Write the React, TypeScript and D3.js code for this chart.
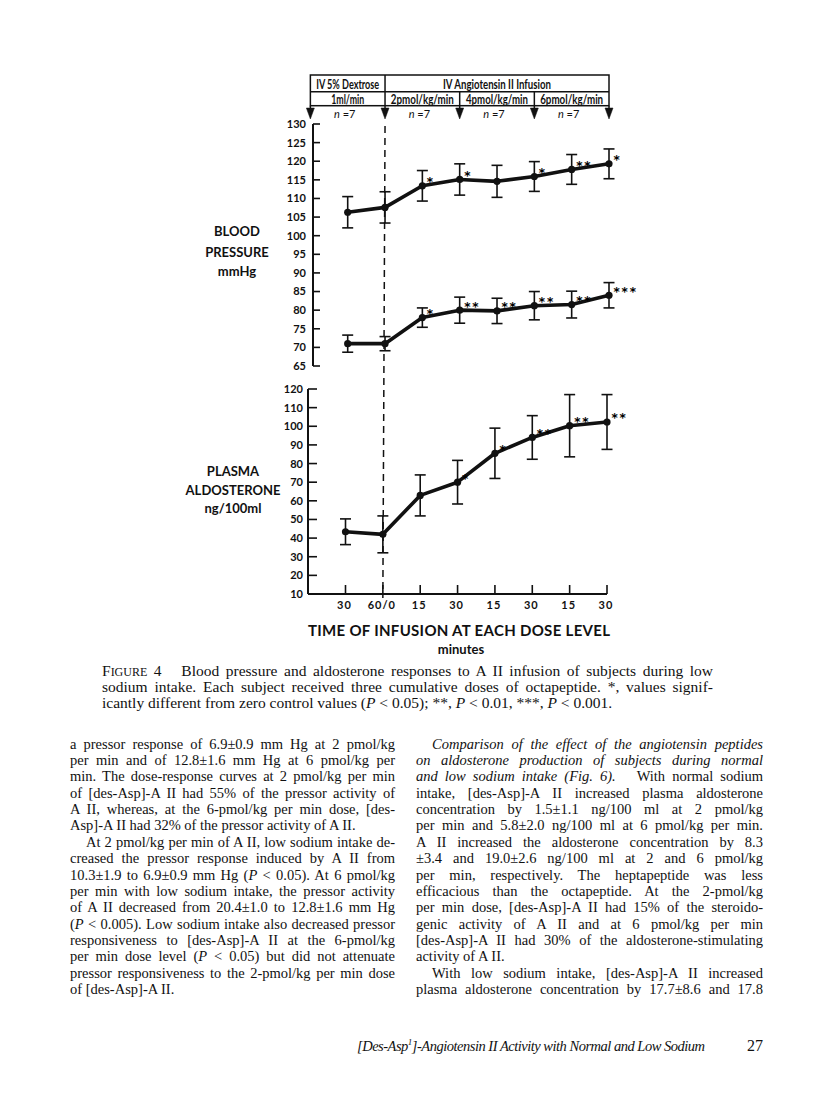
import React, { useLayoutEffect, useRef } from 'react';
import * as d3 from 'd3';

// ---------- data ----------
const timeLabels = ["30", "60/0", "15", "30", "15", "30", "15", "30"];
const systolicMean = [106.3, 107.6, 113.4, 115.1, 114.6, 115.9, 117.8, 119.3];
const systolicErr = [4.2, 4.2, 4.1, 4.2, 4.3, 4.0, 4.0, 4.0];
const systolicSig = ["", "", "*", "*", "", "*", "**", "*"];
const diastolicMean = [71.0, 71.0, 78.0, 80.0, 79.8, 81.2, 81.5, 84.0];
const diastolicErr = [2.3, 1.9, 2.6, 3.5, 3.4, 3.8, 3.6, 3.4];
const diastolicSig = ["", "", "*", "**", "**", "**", "**", "***"];
const aldoMean = [43.4, 42.0, 62.9, 70.0, 85.5, 94.0, 100.3, 102.3];
const aldoErr = [6.9, 9.9, 11.0, 11.7, 13.5, 11.7, 16.7, 14.7];
const aldoSig = ["", "", "", "*", "*", "**", "**", "**"];
const bpTicks = d3.range(65, 131, 5);
const aldoTicks = d3.range(10, 121, 10);
const groupHeaders = ["IV 5% Dextrose", "IV Angiotensin II Infusion"];
const doseHeaders = ["1ml/min", "2pmol/kg/min", "4pmol/kg/min", "6pmol/kg/min"];
const nLabels = ["n", "n", "n", "n"];
const boundaries = [-1, 1, 3, 5, 7];

const captionLines = [
  "Blood pressure and aldosterone responses to A II infusion of subjects during low",
  "sodium intake. Each subject received three cumulative doses of octapeptide. *, values signif-",
  "icantly different from zero control values (_P_ < 0.05); **, _P_ < 0.01, ***, _P_ < 0.001.",
];
const leftColumn = [
  "a pressor response of 6.9±0.9 mm Hg at 2 pmol/kg",
  "per min and of 12.8±1.6 mm Hg at 6 pmol/kg per",
  "min. The dose-response curves at 2 pmol/kg per min",
  "of [des-Asp]-A II had 55% of the pressor activity of",
  "A II, whereas, at the 6-pmol/kg per min dose, [des-",
  "Asp]-A II had 32% of the pressor activity of A II.",
  "At 2 pmol/kg per min of A II, low sodium intake de-",
  "creased the pressor response induced by A II from",
  "10.3±1.9 to 6.9±0.9 mm Hg (_P_ < 0.05). At 6 pmol/kg",
  "per min with low sodium intake, the pressor activity",
  "of A II decreased from 20.4±1.0 to 12.8±1.6 mm Hg",
  "(_P_ < 0.005). Low sodium intake also decreased pressor",
  "responsiveness to [des-Asp]-A II at the 6-pmol/kg",
  "per min dose level (_P_ < 0.05) but did not attenuate",
  "pressor responsiveness to the 2-pmol/kg per min dose",
  "of [des-Asp]-A II.",
];
const leftIndent = [false, false, false, false, false, false, true, false, false, false, false, false, false, false, false, false];
const leftLast = [false, false, false, false, false, true, false, false, false, false, false, false, false, false, false, true];
const rightColumn = [
  "_Comparison of the effect of the angiotensin peptides_",
  "_on aldosterone production of subjects during normal_",
  "_and low sodium intake (Fig. 6)._   With normal sodium",
  "intake, [des-Asp]-A II increased plasma aldosterone",
  "concentration by 1.5±1.1 ng/100 ml at 2 pmol/kg",
  "per min and 5.8±2.0 ng/100 ml at 6 pmol/kg per min.",
  "A II increased the aldosterone concentration by 8.3",
  "±3.4 and 19.0±2.6 ng/100 ml at 2 and 6 pmol/kg",
  "per min, respectively. The heptapeptide was less",
  "efficacious than the octapeptide. At the 2-pmol/kg",
  "per min dose, [des-Asp]-A II had 15% of the steroido-",
  "genic activity of A II and at 6 pmol/kg per min",
  "[des-Asp]-A II had 30% of the aldosterone-stimulating",
  "activity of A II.",
  "With low sodium intake, [des-Asp]-A II increased",
  "plasma aldosterone concentration by 17.7±8.6 and 17.8",
];
const rightIndent = [true, false, false, false, false, false, false, false, false, false, false, false, false, false, true, false];
const rightLast = [false, false, false, false, false, false, false, false, false, false, false, false, false, true, false, false];
const footerText = "]-Angiotensin II Activity with Normal and Low Sodium";
const pageNumber = "27";

// ---------- styles ----------
const GEO = "Lato, 'Open Sans', sans-serif";
const STAR = "'DejaVu Sans', sans-serif";
const SERIF = "'Liberation Serif', 'DejaVu Serif', serif";
const headerGroupWidths = [63, 108];
const headerDoseWidths = [33, 63, 62, 63];

type Seg = { t: string; it?: boolean; size?: number };

function parts(s: string): Seg[] {
  const segs = s.split("_");
  return segs.map((t, i) => ({ t, it: i % 2 === 1 })).filter((p) => p.t.length > 0);
}

function TextLine({ x, y, width, segs, justify, size }: { x: number; y: number; width: number; segs: Seg[]; justify: boolean; size: number }) {
  const ref = useRef<SVGTextElement>(null);
  const full = segs.map((s) => s.t).join('');
  useLayoutEffect(() => {
    const el = ref.current;
    if (!el || !justify) return;
    el.setAttribute('word-spacing', '0');
    const w = el.getComputedTextLength();
    const n = (full.match(/ /g) || []).length;
    if (n > 0) el.setAttribute('word-spacing', String((width - w) / n));
  }, [full, width, justify, size]);
  return (
    <text ref={ref} x={x} y={y} fontFamily={SERIF} fontSize={size} fill="#111" style={{ whiteSpace: 'pre' }}>
      {segs.map((p, i) => (
        <tspan key={i} fontStyle={p.it ? 'italic' : 'normal'} fontSize={p.size}>{p.t}</tspan>
      ))}
    </text>
  );
}

function Series({ x, y, mean, err, sig }: any) {
  const line = d3.line<number>().x((_, i) => x(i)).y((d) => y(d));
  return (
    <g>
      {mean.map((m: number, i: number) => (
        <g key={i} stroke="#111" strokeWidth={1.6}>
          <line x1={x(i)} x2={x(i)} y1={y(m + err[i])} y2={y(m - err[i])} />
          <line x1={x(i) - 5.5} x2={x(i) + 5.5} y1={y(m + err[i])} y2={y(m + err[i])} />
          <line x1={x(i) - 5.5} x2={x(i) + 5.5} y1={y(m - err[i])} y2={y(m - err[i])} />
        </g>
      ))}
      <path d={line(mean) || ''} fill="none" stroke="#111" strokeWidth={3.6} strokeLinejoin="round" />
      {mean.map((m: number, i: number) => (
        <circle key={i} cx={x(i)} cy={y(m)} r={3.6} fill="#111" />
      ))}
      {mean.map((m: number, i: number) =>
        sig[i] ? (
          <text key={i} x={x(i) + 4.5} y={y(m) + 0.5} fontFamily={STAR} fontWeight={700} fontSize={12} letterSpacing={1.8} fill="#000" style={{ textRendering: 'geometricPrecision' }}>
            {sig[i]}
          </text>
        ) : null
      )}
    </g>
  );
}

export default function App() {
  const W = 816, H = 1117;
  const xTop = d3.scaleLinear().domain([0, 7]).range([347.7, 609]);
  const xBot = d3.scaleLinear().domain([0, 7]).range([345.5, 607]);
  const yBP = d3.scaleLinear().domain([65, 130]).range([366, 124]);
  const yAl = d3.scaleLinear().domain([10, 120]).range([594, 389]);
  const bpAxisX = 313;
  const alAxisX = 308;
  const bx = boundaries.map((b) => xTop(b));
  const boxTop = 75, boxMid = 91.7, boxBot = 105.7;

  const colTop = 748.5, lh = 16.38;

  return (
    <svg width={W} height={H} style={{ position: 'absolute', left: 0, top: 0, background: '#fff' }}>
      <rect x={0} y={0} width={W} height={H} fill="#fff" />
      {/* header box */}
      <g stroke="#111" strokeWidth={1.5} fill="none">
        <rect x={bx[0]} y={boxTop} width={bx[4] - bx[0]} height={boxBot - boxTop} />
        <line x1={bx[0]} x2={bx[4]} y1={boxMid} y2={boxMid} />
        <line x1={bx[1]} x2={bx[1]} y1={boxTop} y2={boxBot} />
        <line x1={bx[2]} x2={bx[2]} y1={boxMid} y2={boxBot} />
        <line x1={bx[3]} x2={bx[3]} y1={boxMid} y2={boxBot} />
      </g>
      <g fontFamily={GEO} fontWeight={700} fontSize={12.5} fill="#111">
        <text x={(bx[0] + bx[1]) / 2 - headerGroupWidths[0] / 2} y={88.5} textLength={headerGroupWidths[0]} lengthAdjust="spacingAndGlyphs">{groupHeaders[0]}</text>
        <text x={(bx[1] + bx[4]) / 2 - headerGroupWidths[1] / 2} y={88.5} textLength={headerGroupWidths[1]} lengthAdjust="spacingAndGlyphs">{groupHeaders[1]}</text>
        {doseHeaders.map((d, i) => (
          <text key={i} x={(bx[i] + bx[i + 1]) / 2 - headerDoseWidths[i] / 2} y={103.5} textLength={headerDoseWidths[i]} lengthAdjust="spacingAndGlyphs">{d}</text>
        ))}
      </g>
      {/* arrows */}
      {bx.map((x, i) => (
        <g key={i} fill="#111" stroke="#111">
          <line x1={x} x2={x} y1={boxBot} y2={110} strokeWidth={1.5} />
          <path d={`M${x - 4},${108}L${x + 4},${108}L${x},${119}Z`} strokeWidth={0.5} />
        </g>
      ))}
      {nLabels.map((n, i) => (
        <text key={i} x={(bx[i] + bx[i + 1]) / 2 - 3} y={118} textAnchor="middle" fontFamily={GEO} fontSize={11} fill="#111">
          <tspan fontStyle="italic">{n}</tspan> =7
        </text>
      ))}
      {/* dashed divider */}
      <line x1={xTop(1)} y1={126} x2={xBot(1)} y2={598} stroke="#111" strokeWidth={1.5} strokeDasharray="7,5" />

      {/* BP axis */}
      <line x1={bpAxisX} x2={bpAxisX} y1={yBP(130)} y2={yBP(65)} stroke="#111" strokeWidth={2} />
      {bpTicks.map((t) => (
        <g key={t}>
          <line x1={bpAxisX} x2={bpAxisX + 7} y1={yBP(t)} y2={yBP(t)} stroke="#111" strokeWidth={1.6} />
          <text x={bpAxisX - 7} y={yBP(t)} dy="0.36em" textAnchor="end" fontFamily={GEO} fontWeight={700} fontSize={11} fill="#111">{t}</text>
        </g>
      ))}
      <g fontFamily={GEO} fontWeight={700} fontSize={13} fill="#111" textAnchor="middle">
        <text x={237} y={236}>BLOOD</text>
        <text x={237} y={257}>PRESSURE</text>
        <text x={237} y={276}>mmHg</text>
      </g>
      <Series x={xTop} y={yBP} mean={systolicMean} err={systolicErr} sig={systolicSig} />
      <Series x={xTop} y={yBP} mean={diastolicMean} err={diastolicErr} sig={diastolicSig} />

      {/* Aldosterone axis */}
      <line x1={alAxisX} x2={alAxisX} y1={yAl(120)} y2={yAl(10)} stroke="#111" strokeWidth={2} />
      <line x1={alAxisX} x2={xBot(7)} y1={yAl(10)} y2={yAl(10)} stroke="#111" strokeWidth={2} />
      {aldoTicks.map((t) => (
        <g key={t}>
          <line x1={alAxisX} x2={alAxisX + 9} y1={yAl(t)} y2={yAl(t)} stroke="#111" strokeWidth={1.6} />
          <text x={alAxisX - 5} y={yAl(t)} dy="0.36em" textAnchor="end" fontFamily={GEO} fontWeight={700} fontSize={11} fill="#111">{t}</text>
        </g>
      ))}
      {timeLabels.map((l, i) => (
        <g key={i}>
          <line x1={xBot(i)} x2={xBot(i)} y1={yAl(10)} y2={yAl(10) - 9} stroke="#111" strokeWidth={1.6} />
          <text x={xBot(i) - 1} y={609} textAnchor="middle" fontFamily={GEO} fontWeight={700} fontSize={11} letterSpacing={1} fill="#111">{l}</text>
        </g>
      ))}
      <g fontFamily={GEO} fontWeight={700} fontSize={13} fill="#111" textAnchor="middle">
        <text x={233} y={476}>PLASMA</text>
        <text x={233} y={495}>ALDOSTERONE</text>
        <text x={233} y={513}>ng/100ml</text>
      </g>
      <Series x={xBot} y={yAl} mean={aldoMean} err={aldoErr} sig={aldoSig} />

      <text x={308} y={636} textLength={302} lengthAdjust="spacing" fontFamily={GEO} fontWeight={700} fontSize={15} fill="#111">TIME OF INFUSION AT EACH DOSE LEVEL</text>
      <text x={461} y={654} textAnchor="middle" fontFamily={GEO} fontWeight={700} fontSize={13} fill="#111">minutes</text>

      {/* caption */}
      <TextLine x={102} y={676} width={611} justify size={15.5}
        segs={[{ t: 'F' }, { t: 'IGURE', size: 12 }, { t: ' 4   ' }, ...parts(captionLines[0])]} />
      <TextLine x={102} y={692} width={611} segs={parts(captionLines[1])} justify size={15.5} />
      <TextLine x={102} y={708} width={611} segs={parts(captionLines[2])} justify={false} size={15.5} />

      {/* body columns */}
      {leftColumn.map((s, i) => (
        <TextLine key={'l' + i} x={leftIndent[i] ? 86 : 70} y={colTop + i * lh} width={leftIndent[i] ? 309 : 325} segs={parts(s)} justify={!leftLast[i]} size={14.5} />
      ))}
      {rightColumn.map((s, i) => (
        <TextLine key={'r' + i} x={rightIndent[i] ? 432 : 416} y={colTop + i * lh} width={rightIndent[i] ? 331 : 347} segs={parts(s)} justify={!rightLast[i]} size={14.5} />
      ))}

      {/* footer */}
      <text x={357} y={1051} fontFamily={SERIF} fontStyle="italic" fontSize={14.5} fill="#111" textLength={348} lengthAdjust="spacing">
        [Des-Asp<tspan fontSize={9} dy={-6}>1</tspan><tspan dy={6}>{footerText}</tspan>
      </text>
      <text x={763} y={1051} textAnchor="end" fontFamily={SERIF} fontSize={16} fill="#111">{pageNumber}</text>
    </svg>
  );
}
